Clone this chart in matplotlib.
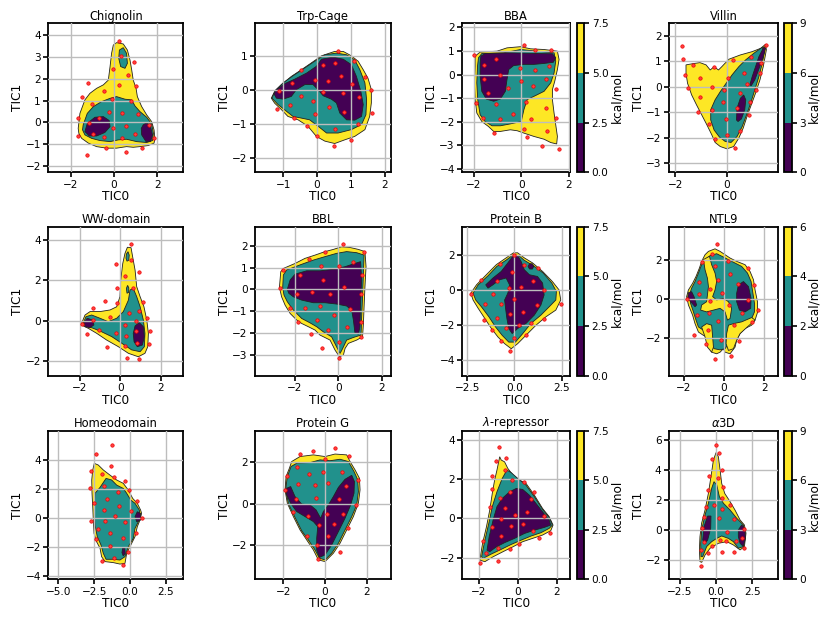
import matplotlib
matplotlib.use("Agg")
import matplotlib.pyplot as plt
from matplotlib.colors import ListedColormap, BoundaryNorm
from matplotlib.cm import ScalarMappable

# ---------------- data ----------------
TITLES = ["Chignolin", "Trp-Cage", "BBA", "Villin",
          "WW-domain", "BBL", "Protein B", "NTL9",
          "Homeodomain", "Protein G", r"$\lambda$-repressor", r"$\alpha$3D"]

XLIMS = [(-3.03, 3.2), (-1.83, 2.17), (-2.49, 2.04), (-2.25, 1.97),
         (-3.57, 3.12), (-3.82, 2.40), (-2.76, 2.94), (-2.75, 2.68),
         (-5.70, 3.72), (-3.36, 3.15), (-2.85, 2.68), (-3.25, 4.26)]
YLIMS = [(-2.3, 4.55), (-2.42, 1.98), (-4.14, 2.17), (-3.36, 2.48),
         (-2.73, 4.66), (-3.95, 2.87), (-4.93, 3.63), (-3.90, 3.71),
         (-4.25, 6.0), (-3.63, 3.50), (-3.11, 4.48), (-3.29, 6.62)]
XTICKS = [[-2, 0, 2], [-1, 0, 1, 2], [-2, 0, 2], [-2, 0],
          [-2, 0, 2], [-2, 0, 2], [-2.5, 0.0, 2.5], [-2, 0, 2],
          [-5.0, -2.5, 0.0, 2.5], [-2, 0, 2], [-2, 0, 2], [-2.5, 0.0, 2.5]]
YTICKS = [[-2, -1, 0, 1, 2, 3, 4], [-2, -1, 0, 1], [-4, -3, -2, -1, 0, 1, 2], [-3, -2, -1, 0, 1, 2],
          [-2, 0, 2, 4], [-3, -2, -1, 0, 1, 2], [-4, -2, 0, 2], [-2, 0, 2],
          [-4, -2, 0, 2, 4], [-2, 0, 2], [-2, 0, 2, 4], [-2, 0, 2, 4, 6]]

# colorbar levels (kcal/mol) for the panels that carry a colorbar
CBAR_LEVELS = {2: [0, 2.5, 5.0, 7.5], 3: [0, 3, 6, 9],
               6: [0, 2.5, 5.0, 7.5], 7: [0, 2, 4, 6],
               10: [0, 2.5, 5.0, 7.5], 11: [0, 3, 6, 9]}

# ---- Chignolin
CHIG_Y = [[(-1.65,-0.28),(-1.57,0.41),(-1.34,1.03),(-1.11,1.33),(-0.80,1.56),(-0.49,1.72),(-0.26,1.94),(-0.18,2.56),(-0.11,3.17),(-0.03,3.55),(0.12,3.66),(0.43,3.60),(0.62,3.32),(0.74,2.86),(0.82,2.40),(0.89,1.94),(1.02,1.56),(1.08,1.18),(1.28,0.72),(1.51,0.34),(1.74,0.03),(1.85,-0.35),(1.89,-0.74),(1.85,-0.96),(1.58,-1.07),(1.20,-1.12),(0.89,-1.15),(0.58,-1.12),(0.12,-1.19),(-0.34,-1.19),(-0.80,-1.12),(-1.18,-0.96),(-1.49,-0.74),(-1.62,-0.51)]]
CHIG_T = [[(-1.42,-0.12),(-1.23,0.41),(-0.95,0.72),(-0.57,0.95),(-0.18,1.10),(0.12,1.18),(0.51,1.06),(0.82,1.03),(0.97,0.75),(1.20,0.49),(1.51,0.23),(1.74,-0.08),(1.82,-0.51),(1.78,-0.84),(1.51,-0.93),(1.05,-0.89),(0.58,-0.78),(0.20,-0.81),(-0.18,-0.89),(-0.65,-0.84),(-1.03,-0.74),(-1.34,-0.58),(-1.45,-0.35)],
          [(0.25,3.32),(0.43,3.43),(0.58,3.17),(0.62,2.71),(0.51,2.48),(0.31,2.56),(0.22,2.94)]]
CHIG_P = [[(-1.34,-0.43),(-1.23,-0.05),(-0.88,0.23),(-0.49,0.26),(-0.22,0.08),(-0.18,-0.20),(-0.42,-0.47),(-0.80,-0.63),(-1.14,-0.63)],
          [(1.35,-0.12),(1.51,-0.02),(1.69,-0.20),(1.78,-0.58),(1.69,-0.89),(1.48,-0.89),(1.28,-0.58),(1.26,-0.28)]]
CHIG_DOTS = [(0.22,3.74),(0.31,3.05),(-0.05,2.45),(0.92,2.76),(0.66,2.19),(0.23,1.72),(1.03,1.67),(-1.18,1.79),(-1.49,1.18),(-0.48,1.44),(-0.11,1.06),(0.80,1.00),(-1.02,0.84),(1.12,0.37),(-0.22,0.49),(0.35,0.41),(-0.69,0.18),(-1.68,0.18),(-1.17,-0.03),(-0.03,-0.25),(0.54,-0.15),(1.63,-0.12),(-1.65,-0.61),(-0.98,-0.54),(-0.45,-0.66),(0.38,-0.74),(0.97,-0.55),(-0.37,-1.19),(0.54,-1.35),(1.31,-1.19),(1.86,-0.74),(-1.26,-1.50)]

# ---- Trp-Cage
TRP_Y = [[(-1.35,-0.23),(-1.25,-0.03),(-1.05,0.17),(-0.76,0.41),(-0.46,0.61),(-0.17,0.81),(0.13,1.02),(0.52,1.15),(0.77,1.15),(1.01,1.02),(1.21,0.86),(1.36,0.61),(1.50,0.36),(1.60,0.02),(1.60,-0.37),(1.55,-0.77),(1.41,-1.16),(1.11,-1.36),(0.82,-1.46),(0.52,-1.57),(0.23,-1.50),(-0.02,-1.36),(-0.27,-1.06),(-0.56,-0.87),(-0.86,-0.77),(-1.05,-0.57),(-1.25,-0.38)]]
TRP_T = [[(-1.33,-0.23),(-1.23,0.0),(-1.00,0.22),(-0.71,0.43),(-0.41,0.63),(-0.07,0.86),(0.23,1.05),(0.57,1.10),(0.87,1.05),(1.11,0.90),(1.26,0.61),(1.41,0.22),(1.46,-0.28),(1.44,-0.72),(1.31,-1.01),(1.01,-1.16),(0.62,-1.26),(0.28,-1.26),(0.03,-1.06),(-0.22,-0.87),(-0.46,-0.82),(-0.71,-0.77),(-0.90,-0.62),(-1.15,-0.42)]]
TRP_P = [[(-1.27,-0.10),(-1.20,0.02),(-0.95,0.20),(-0.66,0.33),(-0.31,0.51),(-0.02,0.71),(0.13,0.92),(0.47,0.98),(0.77,0.92),(1.01,0.76),(1.16,0.41),(1.29,-0.03),(1.36,-0.42),(1.31,-0.77),(1.11,-0.88),(0.87,-0.87),(0.67,-0.67),(0.57,-0.37),(0.42,-0.26),(0.18,-0.16),(0.03,0.02),(-0.12,0.17),(-0.36,0.17),(-0.61,0.02),(-0.76,-0.18),(-1.00,-0.26),(-1.20,-0.23)]]
TRP_DOTS = [(0.62,1.17),(1.08,0.88),(0.16,0.75),(0.53,0.80),(-0.46,0.59),(0.71,0.43),(-0.07,0.31),(0.32,0.29),(1.41,0.38),(1.04,0.19),(-0.74,0.22),(1.58,0.02),(-1.13,-0.03),(0.18,-0.06),(0.77,-0.08),(-0.48,-0.18),(1.24,-0.21),(-0.12,-0.30),(-0.79,-0.42),(0.36,-0.49),(-1.18,-0.55),(-0.05,-0.70),(0.80,-0.65),(1.63,-0.67),(-0.69,-0.82),(1.21,-0.99),(-0.30,-1.06),(0.52,-1.14),(0.01,-1.36),(1.01,-1.47),(0.50,-1.63)]

# ---- BBA
BBA_Y = [[(-1.95,0.78),(-1.74,0.95),(-1.03,0.99),(-0.61,1.13),(-0.04,1.18),(0.38,1.09),(0.95,1.06),(1.51,0.99),(1.58,0.64),(1.51,0.21),(1.40,-0.28),(1.30,-0.64),(1.30,-1.06),(1.37,-1.63),(1.44,-2.13),(1.51,-2.62),(1.48,-2.94),(1.23,-2.88),(0.95,-2.74),(0.52,-2.62),(0.10,-2.48),(-0.18,-2.38),(-0.47,-2.34),(-0.89,-2.41),(-1.17,-2.41),(-1.39,-2.20),(-1.67,-1.99),(-1.88,-1.63),(-1.95,-1.06),(-1.98,-0.35),(-1.95,0.35)]]
BBA_T = [[(-1.81,0.71),(-1.67,0.89),(-0.75,0.92),(-0.04,1.06),(0.66,0.99),(1.37,0.92),(1.44,0.57),(1.37,0.07),(1.23,-0.35),(0.95,-0.71),(0.59,-0.89),(0.24,-1.06),(0.10,-1.49),(-0.01,-1.99),(-0.47,-2.09),(-0.89,-2.17),(-1.24,-2.17),(-1.53,-1.99),(-1.74,-1.70),(-1.84,-1.06),(-1.88,-0.35),(-1.85,0.35)]]
BBA_P = [[(-1.71,0.78),(-1.53,0.89),(-0.47,0.92),(0.66,0.89),(1.30,0.88),(1.44,0.71),(1.34,0.52),(0.95,0.47),(0.52,0.43),(0.10,0.43),(-0.33,0.38),(-0.54,0.21),(-0.61,-0.21),(-0.68,-0.71),(-0.89,-1.04),(-1.17,-1.13),(-1.48,-1.04),(-1.67,-0.71),(-1.74,-0.07),(-1.74,0.50)]]
BBA_DOTS = [(0.10,1.23),(-1.98,0.81),(0.57,1.03),(1.23,1.03),(-1.06,0.64),(-1.57,0.40),(-0.08,0.28),(0.57,0.18),(1.17,0.38),(-0.89,-0.04),(-1.57,-0.17),(1.04,-0.21),(-0.04,-0.28),(-0.57,-0.58),(0.49,-0.47),(1.47,-0.61),(-1.43,-0.78),(-1.91,-1.21),(-1.06,-1.25),(0.18,-1.16),(1.02,-1.42),(-0.37,-1.67),(-0.92,-1.89),(-1.60,-1.82),(0.41,-1.89),(1.44,-1.84),(0.10,-2.31),(1.09,-2.37),(-1.17,-2.48),(0.24,-2.66),(0.88,-3.01),(1.58,-3.15)]

# ---- Villin
VIL_Y = [[(-1.59,0.85),(-1.37,0.89),(-1.05,0.94),(-0.81,0.85),(-0.65,0.65),(-0.50,0.78),(-0.33,0.65),(-0.20,0.78),(0.07,1.07),(0.52,1.24),(0.98,1.37),(1.31,1.50),(1.50,1.66),(1.53,1.44),(1.41,0.78),(1.28,0.26),(1.11,-0.26),(0.92,-0.78),(0.78,-1.17),(0.63,-1.63),(0.46,-2.02),(0.26,-2.35),(0.0,-2.44),(-0.26,-2.35),(-0.46,-2.19),(-0.59,-1.89),(-0.78,-1.50),(-0.98,-1.11),(-1.18,-0.72),(-1.37,-0.33),(-1.53,0.13),(-1.59,0.52)]]
VIL_T = [[(1.37,1.54),(1.05,1.31),(0.72,1.04),(0.46,0.78),(0.20,0.46),(-0.03,0.13),(-0.26,-0.20),(-0.46,-0.52),(-0.63,-0.91),(-0.63,-1.31),(-0.50,-1.70),(-0.29,-1.98),(-0.07,-2.15),(0.16,-2.19),(0.39,-1.96),(0.59,-1.57),(0.76,-1.11),(0.92,-0.65),(1.08,-0.13),(1.24,0.39),(1.37,0.91),(1.46,1.37)]]
VIL_P = [[(0.89,0.07),(0.98,0.39),(1.24,1.17),(1.44,1.57),(1.50,1.50),(1.37,1.04),(1.08,0.26),(0.94,0.03)],
         [(0.37,-1.31),(0.39,-0.85),(0.52,-0.46),(0.65,-0.33),(0.73,-0.52),(0.69,-0.91),(0.56,-1.27),(0.43,-1.37)]]
VIL_DOTS = [(-1.76,1.59),(-1.72,1.10),(-1.33,0.85),(-0.51,0.77),(-1.63,0.44),(-1.06,0.33),(-1.50,-0.05),(-0.60,-0.01),(0.22,1.04),(0.95,1.15),(1.53,1.61),(1.31,0.91),(0.67,0.55),(1.28,0.52),(0.04,0.33),(-0.13,-0.13),(0.76,0.09),(1.14,-0.14),(-1.05,-0.40),(0.51,-0.27),(-0.16,-0.59),(0.90,-0.59),(-0.59,-0.91),(0.38,-0.85),(-1.12,-0.99),(0.85,-1.11),(-0.03,-1.28),(-0.68,-1.48),(0.52,-1.76),(0.0,-1.89),(-0.48,-2.06),(0.31,-2.42)]

# ---- WW-domain
WW_Y = [[(-1.92,-0.13),(-1.75,0.28),(-1.50,0.45),(-1.01,0.45),(-0.51,0.53),(-0.18,0.69),(-0.02,1.19),(0.02,2.02),(0.12,2.84),(0.23,3.34),(0.35,3.64),(0.53,3.62),(0.61,3.17),(0.73,2.51),(0.81,1.69),(0.98,1.19),(1.17,0.69),(1.31,0.03),(1.39,-0.63),(1.36,-1.29),(1.22,-1.62),(0.89,-1.79),(0.40,-1.62),(-0.10,-1.29),(-0.68,-0.96),(-1.17,-0.63),(-1.59,-0.38),(-1.84,-0.26)]]
WW_T = [[(-1.83,-0.10),(-1.70,0.20),(-1.42,0.28),(-1.01,0.12),(-0.60,-0.05),(-0.18,0.12),(0.15,0.45),(0.40,1.02),(0.48,1.52),(0.64,1.60),(0.81,1.19),(0.98,0.69),(1.14,0.03),(1.22,-0.63),(1.19,-1.29),(0.98,-1.54),(0.56,-1.45),(0.07,-1.12),(-0.43,-0.79),(-0.93,-0.55),(-1.34,-0.38),(-1.70,-0.26)],
        [(0.30,3.30),(0.38,3.42),(0.44,3.25),(0.42,3.00),(0.33,2.95),(0.28,3.10)],
        [(0.30,1.60),(0.36,1.75),(0.42,1.62),(0.41,1.40),(0.33,1.36)]]
WW_P = [[(-1.80,-0.10),(-1.64,0.12),(-1.37,0.03),(-1.31,-0.21),(-1.50,-0.35),(-1.75,-0.30)],
        [(0.64,-0.63),(0.73,-0.26),(0.94,-0.10),(1.14,-0.30),(1.19,-0.79),(1.09,-1.21),(0.84,-1.29),(0.68,-1.04)]]
WW_DOTS = [(0.53,3.80),(0.51,3.02),(-0.21,2.83),(0.94,2.41),(0.23,2.21),(-0.18,1.60),(0.64,1.62),(-0.76,0.97),(-0.15,0.86),(1.14,0.94),(-1.37,0.64),(0.93,0.50),(0.41,0.36),(-0.50,0.18),(1.31,0.12),(0.78,0.0),(-1.37,0.03),(-1.88,-0.17),(0.23,-0.21),(-1.64,-0.68),(-1.07,-0.48),(-0.21,-0.60),(0.28,-0.76),(0.79,-0.53),(1.47,-0.53),(-0.68,-1.31),(0.25,-1.26),(0.84,-1.12),(1.42,-1.16),(0.31,-1.87),(0.91,-1.92)]

# ---- BBL
BBL_Y = [[(-2.70,0.09),(-2.64,0.81),(-2.52,0.96),(-1.98,1.19),(-1.53,1.42),(-1.07,1.57),(-0.61,1.73),(-0.23,1.83),(0.15,1.95),(0.53,1.92),(0.92,1.83),(1.22,1.73),(1.27,1.04),(1.22,0.12),(1.18,-0.79),(1.15,-1.56),(1.11,-2.17),(0.84,-2.32),(0.46,-2.47),(0.31,-2.70),(0.23,-3.01),(0.05,-3.08),(-0.15,-2.78),(-0.38,-2.32),(-0.84,-2.09),(-1.07,-1.86),(-1.37,-1.71),(-1.68,-1.56),(-1.91,-1.40),(-2.21,-1.10),(-2.44,-0.72),(-2.60,-0.34)]]
BBL_T = [[(-2.55,0.09),(-2.52,0.66),(-2.37,0.89),(-1.76,1.12),(-1.15,1.34),(-0.61,1.50),(-0.08,1.65),(0.38,1.73),(0.84,1.68),(1.18,1.57),(1.15,0.73),(1.11,-0.34),(1.07,-1.25),(1.04,-2.09),(0.69,-2.20),(0.38,-2.32),(0.20,-2.70),(0.08,-2.93),(-0.08,-2.63),(-0.31,-2.17),(-0.69,-1.94),(-0.99,-1.71),(-1.30,-1.53),(-1.68,-1.33),(-2.06,-0.95),(-2.34,-0.56),(-2.49,-0.26)]]
BBL_P = [[(-2.34,0.0),(-2.21,0.43),(-1.98,0.70),(-1.45,0.85),(-0.84,0.85),(-0.23,0.92),(0.31,1.04),(0.76,1.19),(1.02,1.27),(1.07,0.43),(1.02,-0.64),(0.99,-1.71),(0.92,-2.05),(0.76,-1.98),(0.69,-1.40),(0.61,-0.95),(0.38,-0.76),(-0.08,-0.67),(-0.61,-0.61),(-1.15,-0.61),(-1.68,-0.49),(-2.06,-0.34),(-2.27,-0.18)]]
BBL_DOTS = [(0.20,2.06),(-0.61,1.73),(1.18,1.73),(-1.34,1.39),(0.69,1.24),(-2.55,0.89),(-0.79,1.07),(0.02,1.07),(-1.76,0.64),(-0.72,0.43),(1.07,0.66),(0.26,0.09),(-2.67,0.08),(-1.88,-0.23),(-1.19,-0.12),(-0.38,-0.21),(1.04,-0.20),(-2.21,-0.87),(-1.53,-0.87),(-0.84,-0.76),(0.53,-0.90),(-0.18,-1.15),(1.04,-1.48),(-1.83,-1.51),(-0.99,-1.40),(0.41,-1.71),(-0.46,-1.86),(-1.25,-2.06),(1.04,-2.17),(0.05,-2.40),(-0.73,-2.70),(0.05,-3.16)]

# ---- Protein B
PRB_Y = [[(-2.31,-0.19),(-2.01,0.29),(-1.49,0.87),(-0.96,1.45),(-0.44,1.84),(-0.05,2.13),(0.17,2.13),(0.52,1.84),(0.96,1.55),(1.49,1.06),(2.01,0.48),(2.36,0.0),(2.45,-0.58),(2.19,-1.16),(1.66,-1.55),(1.14,-2.03),(0.61,-2.61),(0.17,-3.09),(-0.17,-3.38),(-0.52,-3.09),(-0.87,-2.71),(-1.22,-2.22),(-1.57,-1.64),(-1.92,-1.06),(-2.19,-0.58)]]
PRB_T = [[(-2.19,-0.19),(-1.92,0.29),(-1.40,0.81),(-0.93,1.35),(-0.40,1.74),(-0.05,2.03),(0.23,1.97),(0.52,1.70),(1.00,1.39),(1.52,0.97),(1.98,0.39),(2.22,-0.10),(2.19,-0.58),(1.84,-0.97),(1.40,-1.45),(0.87,-1.93),(0.44,-2.51),(0.05,-3.00),(-0.30,-3.00),(-0.65,-2.61),(-1.00,-2.13),(-1.35,-1.55),(-1.75,-0.97),(-2.05,-0.58)]]
PRB_P = [[(-1.52,0.29),(-1.14,0.68),(-0.70,1.06),(-0.35,1.55),(-0.09,1.93),(0.17,1.97),(0.35,1.64),(0.52,1.16),(0.79,0.87),(1.22,0.77),(1.49,0.39),(1.57,-0.29),(1.40,-0.87),(1.05,-1.45),(0.61,-1.93),(0.17,-2.22),(-0.12,-2.51),(-0.30,-2.22),(-0.40,-1.64),(-0.47,-1.06),(-0.52,-0.58),(-0.35,-0.19),(-0.26,0.29),(-0.44,0.68),(-0.79,0.58),(-1.14,0.29),(-1.40,0.10)],
         [(0.72,1.35),(0.80,1.50),(0.95,1.50),(1.02,1.35),(0.95,1.20),(0.80,1.20)]]
PRB_DOTS = [(-0.05,2.03),(-0.79,1.49),(0.52,1.45),(1.22,1.26),(-0.12,1.00),(-1.75,0.54),(-0.93,0.52),(1.00,0.52),(-0.30,0.10),(0.35,0.19),(1.54,-0.02),(-2.31,-0.21),(-1.14,-0.21),(0.0,-0.54),(-1.57,-0.79),(-0.70,-0.83),(1.17,-0.87),(2.49,-0.83),(-0.93,-1.59),(-0.26,-1.39),(0.44,-1.26),(1.57,-1.68),(-1.63,-1.74),(0.87,-1.89),(0.23,-1.99),(-0.47,-2.18),(-1.21,-2.32),(0.0,-2.76),(-0.70,-2.94),(0.61,-2.61),(-0.23,-3.52)]

# ---- NTL9
NTL_Y = [[(-0.95,2.28),(-0.78,2.45),(-0.45,2.58),(-0.20,2.45),(0.05,2.28),(0.30,2.11),(0.63,1.94),(1.05,1.77),(1.30,1.42),(1.47,1.0),(1.55,0.48),(1.67,-0.12),(1.68,-0.64),(1.55,-1.06),(1.38,-1.32),(1.05,-1.49),(0.80,-1.75),(0.63,-2.09),(0.55,-2.44),(0.30,-2.78),(0.05,-2.70),(-0.03,-2.52),(-0.20,-2.70),(-0.37,-2.78),(-0.62,-2.70),(-0.78,-2.35),(-0.87,-1.92),(-1.03,-1.84),(-1.28,-1.67),(-1.45,-1.24),(-1.57,-0.81),(-1.78,-0.29),(-1.87,0.14),(-1.78,0.48),(-1.57,0.82),(-1.40,1.17),(-1.23,1.60),(-1.12,1.94)]]
NTL_T = [[(-0.90,2.06),(-0.70,2.23),(-0.37,2.33),(-0.03,2.16),(0.38,1.94),(0.88,1.68),(1.17,1.34),(1.35,0.91),(1.43,0.39),(1.52,-0.21),(1.52,-0.64),(1.38,-0.98),(1.13,-1.20),(0.63,-1.44),(0.38,-1.75),(0.22,-2.27),(0.05,-2.52),(-0.20,-2.58),(-0.50,-2.52),(-0.70,-2.18),(-0.83,-1.67),(-1.07,-1.55),(-1.28,-1.41),(-1.40,-1.06),(-1.53,-0.64),(-1.67,-0.21),(-1.73,0.22),(-1.62,0.57),(-1.45,0.91),(-1.28,1.34),(-1.12,1.77)]]
NTL_Y2 = [[(-1.03,2.03),(-0.73,2.20),(-0.62,1.77),(-0.45,1.34),(-0.37,0.91),(-0.45,0.48),(-0.57,0.14),(-0.37,-0.03),(-0.03,0.05),(0.22,-0.12),(0.38,-0.46),(0.30,-0.98),(0.17,-1.06),(0.05,-0.64),(-0.20,-0.46),(-0.53,-0.55),(-0.87,-0.64),(-1.17,-0.55),(-1.12,-0.29),(-0.87,-0.12),(-0.83,0.22),(-0.78,0.65),(-0.83,1.08),(-0.95,1.51)],
          [(-1.12,-1.41),(-0.87,-1.24),(-0.62,-1.32),(-0.57,-1.92),(-0.53,-2.44),(-0.62,-2.70),(-0.83,-2.44),(-0.95,-1.92)],
          [(0.22,-1.32),(0.47,-1.24),(0.88,-1.15),(1.38,-0.93),(1.55,-1.06),(1.13,-1.44),(0.80,-1.75),(0.63,-2.09),(0.47,-2.52),(0.22,-2.61),(0.10,-2.27),(0.13,-1.75)]]
NTL_P = [[(0.72,0.74),(0.97,0.91),(1.22,0.65),(1.35,0.05),(1.33,-0.46),(1.05,-0.64),(0.77,-0.55),(0.63,-0.12),(0.63,0.31)],
         [(-1.78,0.34),(-1.62,0.39),(-1.50,0.14),(-1.37,-0.29),(-1.45,-0.38),(-1.67,-0.12),(-1.82,0.05)]]
NTL_DOTS = [(-0.33,2.85),(-0.58,2.30),(-1.08,1.91),(0.22,1.94),(-0.45,1.68),(1.18,1.58),(0.30,1.29),(-0.28,1.00),(-1.25,0.88),(0.72,0.77),(1.52,0.74),(-0.70,0.55),(-0.12,0.31),(-1.23,0.26),(1.22,-0.05),(-1.83,0.02),(-0.70,-0.09),(0.27,-0.31),(1.68,-0.55),(-1.37,-0.82),(-0.73,-0.69),(0.92,-0.69),(-0.28,-1.12),(0.50,-1.32),(1.42,-1.18),(-0.82,-1.58),(-1.48,-1.80),(-0.17,-2.09),(0.77,-2.13),(-0.92,-2.30),(0.35,-2.90),(-0.45,-3.07)]

# ---- Homeodomain
HOM_Y = [[(-2.49,3.75),(-2.21,3.63),(-1.86,3.29),(-1.40,2.94),(-0.93,2.60),(-0.47,2.37),(-0.12,1.91),(0.19,1.33),(0.51,0.99),(0.74,0.53),(0.81,0.30),(0.70,-0.16),(0.51,-0.62),(0.35,-1.31),(0.0,-2.0),(-0.23,-2.46),(-0.35,-3.15),(-0.70,-3.20),(-1.16,-3.10),(-1.74,-3.03),(-1.98,-2.69),(-2.09,-2.11),(-2.33,-1.66),(-2.51,-1.08),(-2.56,-0.16),(-2.60,0.76),(-2.65,1.68),(-2.67,2.60),(-2.60,3.29)]]
HOM_T = [[(-2.44,1.68),(-2.09,2.09),(-1.67,2.71),(-1.28,2.60),(-0.93,2.25),(-0.47,2.02),(-0.23,1.68),(0.05,1.22),(0.35,0.99),(0.65,0.53),(0.70,0.18),(0.58,-0.28),(0.35,-0.74),(0.23,-1.43),(-0.12,-2.0),(-0.35,-2.69),(-0.70,-2.92),(-1.16,-2.87),(-1.67,-2.87),(-1.86,-2.46),(-2.02,-1.89),(-2.28,-1.31),(-2.44,-0.51),(-2.49,0.53)]]
HOM_P = [[(0.35,0.07),(0.51,0.41),(0.74,0.30),(0.74,-0.16),(0.47,-0.28)],
         [(-0.51,-2.11),(-0.37,-2.05),(-0.33,-2.46),(-0.47,-2.64),(-0.56,-2.41)]]
HOM_DOTS = [(-1.26,5.01),(-2.37,4.37),(-2.72,3.24),(-1.93,3.01),(-1.12,2.83),(-1.35,3.56),(-0.37,2.55),(-1.79,2.21),(-2.79,2.02),(-0.05,1.89),(-0.81,1.79),(-1.58,1.26),(-2.49,0.99),(0.47,1.17),(-0.74,0.83),(-1.81,0.53),(0.07,0.46),(-1.05,0.11),(0.81,-0.05),(-2.74,-0.25),(-1.72,-0.23),(-0.35,-0.28),(-2.21,-0.78),(-1.40,-1.08),(0.44,-1.03),(-0.51,-1.38),(-2.37,-1.49),(-1.40,-1.98),(-0.16,-2.34),(-1.12,-2.76),(-1.93,-2.97),(-0.51,-3.29)]

# ---- Protein G
PRG_Y = [[(-1.92,0.66),(-1.87,1.30),(-1.71,1.70),(-1.60,2.02),(-1.20,2.26),(-0.56,2.34),(0.0,2.26),(0.48,2.38),(1.04,2.34),(1.20,2.02),(1.44,1.62),(1.65,1.22),(1.68,0.66),(1.60,0.02),(1.36,-0.62),(1.04,-1.26),(0.72,-1.90),(0.40,-2.38),(0.0,-2.78),(-0.32,-2.70),(-0.56,-2.22),(-0.88,-1.74),(-1.20,-1.26),(-1.52,-0.62),(-1.81,0.02)]]
PRG_T = [[(-1.89,0.66),(-1.81,1.30),(-1.63,1.78),(-1.36,1.94),(-0.72,1.97),(-0.24,2.10),(0.24,2.06),(0.72,2.13),(1.12,2.02),(1.39,1.54),(1.57,1.14),(1.60,0.58),(1.52,-0.06),(1.28,-0.62),(0.96,-1.26),(0.64,-1.90),(0.32,-2.38),(0.0,-2.70),(-0.27,-2.62),(-0.48,-2.22),(-0.80,-1.74),(-1.12,-1.30),(-1.44,-0.66),(-1.75,-0.02)]]
PRG_P = [[(-1.84,0.74),(-1.65,0.82),(-1.44,0.34),(-1.12,-0.02),(-0.72,-0.06),(-0.43,-0.30),(-0.21,-0.70),(-0.08,-0.38),(0.16,-0.06),(0.40,0.34),(0.64,0.78),(0.96,1.17),(1.28,1.36),(1.41,1.06),(1.39,0.50),(1.23,-0.06),(0.96,-0.70),(0.64,-1.34),(0.32,-1.98),(0.0,-2.46),(-0.27,-2.58),(-0.40,-2.22),(-0.40,-1.66),(-0.35,-1.10),(-0.56,-0.86),(-0.96,-0.62),(-1.36,-0.38),(-1.65,0.02),(-1.84,0.42)]]
PRG_DOTS = [(0.48,2.66),(-0.56,2.54),(-1.20,2.40),(1.17,2.30),(0.0,2.14),(-1.36,1.78),(-0.11,1.54),(-0.77,1.44),(0.83,1.52),(-1.81,1.31),(-1.28,0.93),(0.16,0.98),(-0.48,0.90),(1.60,1.14),(0.99,0.85),(-1.39,0.22),(-0.45,0.26),(0.66,0.24),(1.49,-0.08),(-1.52,-0.40),(-0.83,-0.58),(0.11,-0.48),(0.85,-0.50),(-0.29,-1.02),(0.45,-0.99),(1.09,-1.18),(0.14,-1.54),(-0.88,-1.54),(-0.40,-1.98),(0.72,-2.34),(-0.32,-2.66),(-1.92,0.66)]

# ---- lambda-repressor
LAM_Y = [[(-1.95,-2.13),(-1.81,-1.28),(-1.61,-0.43),(-1.44,0.43),(-1.31,1.28),(-1.19,1.96),(-1.07,2.47),(-0.93,3.15),(-0.85,2.98),(-0.68,2.89),(-0.51,2.55),(-0.25,2.21),(0.08,1.96),(0.42,1.79),(0.85,1.19),(1.27,0.51),(1.61,0.09),(1.81,-0.34),(1.69,-0.63),(1.27,-0.85),(0.76,-1.02),(0.25,-1.19),(-0.25,-1.45),(-0.76,-1.70),(-1.27,-1.96),(-1.69,-2.21)]]
LAM_T = [[(-1.86,-1.96),(-1.69,-1.11),(-1.49,-0.26),(-1.31,0.60),(-1.07,1.36),(-0.80,2.04),(-0.56,2.47),(-0.34,2.34),(0.0,2.04),(0.42,1.70),(0.85,1.11),(1.27,0.46),(1.61,0.05),(1.78,-0.34),(1.61,-0.51),(1.19,-0.73),(0.68,-0.90),(0.17,-1.11),(-0.34,-1.33),(-0.85,-1.58),(-1.36,-1.82),(-1.78,-2.04)]]
LAM_P = [[(-1.58,-1.62),(-1.47,-0.94),(-1.27,-0.09),(-1.07,0.60),(-0.80,1.02),(-0.42,1.36),(-0.08,1.53),(0.25,1.48),(0.59,1.19),(0.93,0.77),(1.27,0.34),(1.61,-0.09),(1.69,-0.34),(1.36,-0.46),(0.85,-0.60),(0.34,-0.77),(-0.17,-1.02),(-0.68,-1.24),(-1.10,-1.45),(-1.44,-1.70)]]
LAM_DOTS = [(-0.97,3.63),(-0.59,3.10),(-1.14,2.94),(-0.68,2.47),(-1.31,2.18),(-0.31,1.96),(0.31,1.87),(-1.31,1.50),(-0.39,1.36),(0.85,1.33),(-0.93,1.02),(0.68,0.97),(-1.44,0.60),(-0.64,0.51),(0.46,0.31),(-0.12,0.17),(-0.85,-0.05),(1.36,0.12),(0.25,-0.26),(-1.32,-0.43),(-0.34,-0.39),(-0.85,-0.89),(0.76,-0.63),(1.63,-0.73),(1.10,-1.02),(-1.81,-1.16),(-1.61,-1.75),(-1.02,-1.53),(-0.42,-1.58),(0.08,-1.31),(-1.92,-2.28),(-1.02,-2.16)]

# ---- alpha3D
A3D_Y = [[(-1.11,-2.11),(-1.15,-1.33),(-1.11,-0.44),(-1.0,0.44),(-0.76,1.33),(-0.53,2.44),(-0.35,3.56),(-0.18,4.67),(0.0,5.16),(0.16,4.89),(0.28,4.0),(0.39,3.11),(0.60,2.44),(0.97,1.89),(1.31,1.33),(1.66,0.67),(1.96,0.33),(2.07,-0.22),(1.96,-1.11),(1.66,-1.33),(1.20,-1.0),(0.74,-0.78),(0.16,-0.89),(-0.41,-1.22),(-0.76,-1.67),(-0.99,-2.16)]]
A3D_T = [[(-1.04,-1.78),(-1.06,-0.89),(-0.99,0.0),(-0.76,1.0),(-0.53,1.78),(-0.30,2.78),(-0.14,3.22),(0.05,3.0),(0.23,2.22),(0.51,1.78),(0.97,1.33),(1.43,0.78),(1.89,0.33),(2.0,-0.22),(1.89,-1.11),(1.54,-1.22),(1.20,-0.78),(0.85,-0.56),(0.39,-0.40),(0.05,-0.56),(-0.30,-0.78),(-0.65,-1.11),(-0.92,-1.78)]]
A3D_P = [[(-0.92,-0.67),(-0.83,0.22),(-0.58,0.93),(-0.35,0.93),(-0.37,0.11),(-0.58,-0.67),(-0.76,-0.89)],
         [(1.54,0.0),(1.77,0.33),(2.0,0.11),(2.03,-0.56),(1.89,-1.11),(1.66,-0.89),(1.54,-0.44)]]
A3D_DOTS = [(0.0,5.67),(0.23,5.11),(-0.30,4.71),(0.39,4.0),(-0.48,3.62),(0.16,3.44),(0.51,2.89),(-0.58,2.67),(0.39,2.11),(-0.14,1.67),(-0.71,1.56),(0.39,1.38),(0.97,1.67),(-0.81,0.89),(0.23,0.78),(1.24,0.73),(-0.94,0.11),(0.78,-0.11),(1.96,0.07),(-0.81,-0.78),(0.69,-0.71),(-0.30,-1.04),(0.28,-0.67),(1.38,-0.73),(-1.06,-1.33),(-0.53,-1.56),(0.44,-1.49),(1.27,-1.49),(1.94,-1.18),(-1.04,-2.38),(1.77,-0.56)]

# ---------------- styling ----------------
C_PURPLE, C_TEAL, C_YELLOW = "#440154", "#21918c", "#fde725"
W, H = 830, 623

plt.rcParams.update({"font.family": "DejaVu Sans", "axes.linewidth": 1.3})

fig = plt.figure(figsize=(W / 100, H / 100), dpi=100)

COL_X = [(48.3, 183.3), (255.0, 390.7), (462.3, 570.0), (669.0, 777.7)]
CBAR_X = {2: (576.7, 584.2), 3: (784.0, 791.5)}
ROW_Y = [(23.3, 172.3), (226.7, 375.7), (430.7, 579.3)]


def rect(l, r, t, b):
    return [l / W, 1 - b / H, (r - l) / W, (b - t) / H]


PANELS = [
    (CHIG_Y, CHIG_T, [], CHIG_P, CHIG_DOTS),
    (TRP_Y, TRP_T, [], TRP_P, TRP_DOTS),
    (BBA_Y, BBA_T, [], BBA_P, BBA_DOTS),
    (VIL_Y, VIL_T, [], VIL_P, VIL_DOTS),
    (WW_Y, WW_T, [], WW_P, WW_DOTS),
    (BBL_Y, BBL_T, [], BBL_P, BBL_DOTS),
    (PRB_Y, PRB_T, [], PRB_P, PRB_DOTS),
    (NTL_Y, NTL_T, NTL_Y2, NTL_P, NTL_DOTS),
    (HOM_Y, HOM_T, [], HOM_P, HOM_DOTS),
    (PRG_Y, PRG_T, [], PRG_P, PRG_DOTS),
    (LAM_Y, LAM_T, [], LAM_P, LAM_DOTS),
    (A3D_Y, A3D_T, [], A3D_P, A3D_DOTS),
]


def fill_polys(ax, polys, color):
    for poly in polys:
        xs = [p[0] for p in poly]
        ys = [p[1] for p in poly]
        ax.fill(xs, ys, facecolor=color, edgecolor="#222222", linewidth=0.6, zorder=1)


TICK_FS, LABEL_FS, TITLE_FS = 7.6, 8.7, 8.3
TICK_LEN = 3.6

for i, (yel, teal, yel2, pur, dots) in enumerate(PANELS):
    r, c = divmod(i, 4)
    l, rr = COL_X[c]
    t, b = ROW_Y[r]
    ax = fig.add_axes(rect(l, rr, t, b))
    fill_polys(ax, yel, C_YELLOW)
    fill_polys(ax, teal, C_TEAL)
    fill_polys(ax, yel2, C_YELLOW)
    fill_polys(ax, pur, C_PURPLE)
    ax.scatter([d[0] for d in dots], [d[1] for d in dots], s=6, c="#ff4040",
               edgecolors="#ee0000", linewidths=0.5, zorder=4)
    ax.set_xlim(*XLIMS[i])
    ax.set_ylim(*YLIMS[i])
    ax.set_xticks(XTICKS[i])
    ax.set_yticks(YTICKS[i])
    ax.set_axisbelow(False)
    ax.grid(True, color="#bdbdbd", linewidth=1.0)
    ax.tick_params(labelsize=TICK_FS, length=TICK_LEN, width=1.2, pad=1.8)
    ax.set_xlabel("TIC0", fontsize=LABEL_FS, labelpad=0.5)
    ax.set_ylabel("TIC1", fontsize=LABEL_FS, labelpad=1)
    ax.set_title(TITLES[i], fontsize=TITLE_FS, pad=2.5)

    if i in CBAR_LEVELS:
        lv = CBAR_LEVELS[i]
        cl, cr = CBAR_X[c]
        cax = fig.add_axes(rect(cl, cr, t, b))
        sm = ScalarMappable(norm=BoundaryNorm(lv, 3),
                            cmap=ListedColormap([C_PURPLE, C_TEAL, C_YELLOW]))
        cb = fig.colorbar(sm, cax=cax, ticks=lv)
        cb.outline.set_linewidth(1.3)
        cax.tick_params(labelsize=TICK_FS, length=TICK_LEN, width=1.2, pad=1.8)
        cb.set_label("kcal/mol", fontsize=LABEL_FS, labelpad=1)

fig.savefig("out.png", dpi=100)
